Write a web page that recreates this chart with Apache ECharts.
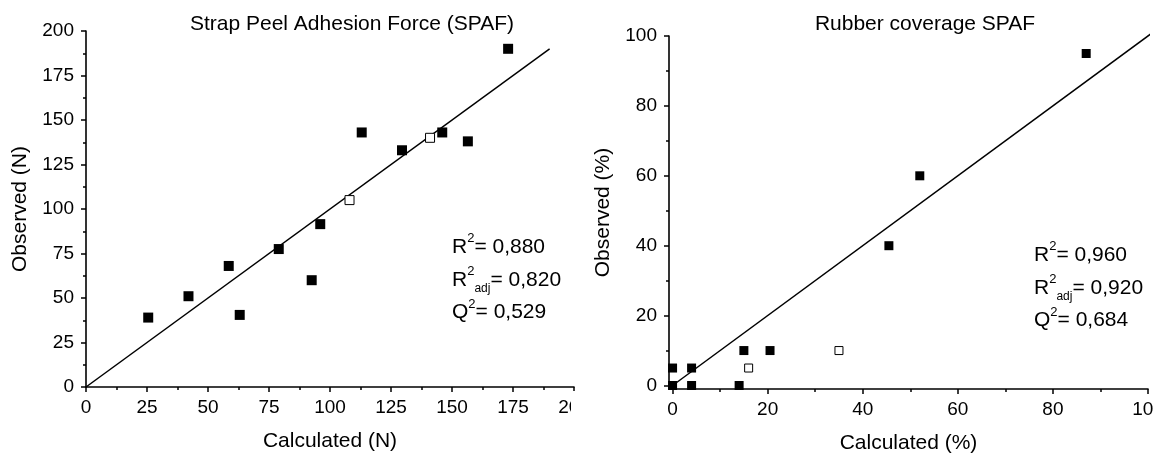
<!DOCTYPE html>
<html>
<head>
<meta charset="utf-8">
<script src="https://cdn.jsdelivr.net/npm/echarts@6/dist/echarts.min.js"></script>
<style>
html,body{margin:0;padding:0;background:#fff;}
#chart{width:1154px;height:453px;}
</style>
</head>
<body>
<div id="chart"></div>
<script>
// ---- Data: Strap Peel Adhesion Force (SPAF) ----
const spafCalcFilled = [25.5, 42, 58.5, 63, 79, 92.5, 96, 113, 129.5, 146, 156.5, 173];
const spafObsFilled  = [39, 51, 68, 40.5, 77.5, 60, 91.5, 143, 133, 143, 138, 190];
const spafCalcOpen   = [108, 141];
const spafObsOpen    = [105, 140];
const spafFitX       = [0, 190];
const spafFitY       = [0, 190];
const spafTicks      = [0, 25, 50, 75, 100, 125, 150, 175, 200];

// ---- Data: Rubber coverage SPAF ----
const rubCalcFilled = [0, 0, 4, 4, 14, 15, 20.5, 45.5, 52, 87];
const rubObsFilled  = [5, 0, 5, 0, 0, 10, 10, 40, 60, 95];
const rubCalcOpen   = [16, 35];
const rubObsOpen    = [5, 10];
const rubFitX       = [0.5, 101];
const rubFitY       = [0.5, 101];
const rubMajorTicks = [0, 20, 40, 60, 80, 100];
const rubMinorTicks = [10, 30, 50, 70, 90];

// ---- Text ----
const titleLeft  = 'Strap Peel Adhesion Force (SPAF)';
const titleRight = 'Rubber coverage SPAF';
const statsLeft  = [['R', '2', '', '= 0,880'], ['R', '2', 'adj', '= 0,820'], ['Q', '2', '', '= 0,529']];
const statsRight = [['R', '2', '', '= 0,960'], ['R', '2', 'adj', '= 0,920'], ['Q', '2', '', '= 0,684']];

const zip = (a, b) => a.map((v, i) => [v, b[i]]);
const FONT = 'Liberation Sans, Arial, sans-serif';
const BLACK = '#000';

function axisBase(extra) {
  return Object.assign({
    type: 'value',
    splitLine: { show: false },
    axisLine: { show: true, onZero: false, lineStyle: { color: BLACK, width: 1.6 } },
    axisTick: { show: true, inside: false, length: 5, lineStyle: { color: BLACK, width: 1.5 } },
    axisLabel: { color: BLACK, fontFamily: FONT, fontSize: 19 },
    nameTextStyle: { color: BLACK, fontFamily: FONT, fontSize: 21 },
    nameLocation: 'middle'
  }, extra);
}

function statLine(parts, x, y) {
  const [a, sup, sub, rest] = parts;
  let text = '{m|' + a + '}{sup|' + sup + '}';
  if (sub) text += '{sub|' + sub + '}';
  text += '{m|' + rest + '}';
  return {
    type: 'text', x: x, y: y, z: 10,
    style: {
      text: text,
      fill: BLACK,
      rich: {
        m:   { fontFamily: FONT, fontSize: 21, lineHeight: 30, verticalAlign: 'middle', fill: BLACK },
        sup: { fontFamily: FONT, fontSize: 13, lineHeight: 17, verticalAlign: 'top', fill: BLACK },
        sub: { fontFamily: FONT, fontSize: 12, lineHeight: 14, verticalAlign: 'bottom', fill: BLACK }
      }
    }
  };
}

const graphics = [
  { type: 'text', x: 352, y: 24, style: { text: titleLeft, fontFamily: FONT, fontSize: 21, fill: BLACK, align: 'center', verticalAlign: 'middle' } },
  { type: 'text', x: 925, y: 24, style: { text: titleRight, fontFamily: FONT, fontSize: 21, fill: BLACK, align: 'center', verticalAlign: 'middle' } },
  // the left panel is cut off at its right edge in the source figure
  { type: 'rect', shape: { x: 571, y: 391, width: 30, height: 30 }, style: { fill: '#fff' }, z: 20 }
];
[232, 265, 297.5].forEach((y, i) => graphics.push(statLine(statsLeft[i], 452, y)));
[240, 273, 305.5].forEach((y, i) => graphics.push(statLine(statsRight[i], 1034, y)));

const option = {
  backgroundColor: '#fff',
  animation: false,
  grid: [
    { left: 86, top: 31, width: 488, height: 356, containLabel: false, outerBoundsMode: 'none' },
    { left: 669, top: 36, width: 479, height: 353, containLabel: false, outerBoundsMode: 'none' }
  ],
  xAxis: [
    axisBase({ gridIndex: 0, position: 'bottom', min: 0, max: 200, interval: 25, name: 'Calculated (N)', nameGap: 44,
      minorTick: { show: true, splitNumber: 2, length: 3, lineStyle: { color: BLACK, width: 1.5 } },
      axisLabel: { color: BLACK, fontFamily: FONT, fontSize: 19, margin: 11, formatter: v => spafTicks.includes(v) ? String(v) : '' } }),
    axisBase({ gridIndex: 1, position: 'bottom', min: -0.75, max: 100, name: 'Calculated (%)', nameGap: 44,
      axisTick: { show: true, inside: false, length: 5, customValues: rubMajorTicks, lineStyle: { color: BLACK, width: 1.5 } },
      axisLabel: { color: BLACK, fontFamily: FONT, fontSize: 19, margin: 11, customValues: rubMajorTicks } }),
    axisBase({ gridIndex: 1, position: 'bottom', min: -0.75, max: 100,
      axisLine: { show: false, onZero: false },
      axisTick: { show: true, inside: false, length: 3, customValues: rubMinorTicks, lineStyle: { color: BLACK, width: 1.5 } },
      axisLabel: { show: false, customValues: rubMinorTicks } })
  ],
  yAxis: [
    axisBase({ gridIndex: 0, position: 'left', min: 0, max: 200, interval: 25, name: 'Observed (N)', nameGap: 55,
      minorTick: { show: true, splitNumber: 2, length: 3, lineStyle: { color: BLACK, width: 1.5 } },
      axisLabel: { color: BLACK, fontFamily: FONT, fontSize: 19, margin: 12 } }),
    axisBase({ gridIndex: 1, position: 'left', min: -1, max: 100, name: 'Observed (%)', nameGap: 55,
      axisTick: { show: true, inside: false, length: 5, customValues: rubMajorTicks, lineStyle: { color: BLACK, width: 1.5 } },
      axisLabel: { color: BLACK, fontFamily: FONT, fontSize: 19, margin: 12, customValues: rubMajorTicks } }),
    axisBase({ gridIndex: 1, position: 'left', min: -1, max: 100,
      axisLine: { show: false, onZero: false },
      axisTick: { show: true, inside: false, length: 3, customValues: rubMinorTicks, lineStyle: { color: BLACK, width: 1.5 } },
      axisLabel: { show: false, customValues: rubMinorTicks } })
  ],
  series: [
    { type: 'line', xAxisIndex: 0, yAxisIndex: 0, data: zip(spafFitX, spafFitY), showSymbol: false, symbol: 'none',
      lineStyle: { color: BLACK, width: 1.5 }, z: 2, silent: true },
    { type: 'scatter', xAxisIndex: 0, yAxisIndex: 0, data: zip(spafCalcFilled, spafObsFilled), symbol: 'rect', symbolSize: 10,
      itemStyle: { color: BLACK, opacity: 1 }, z: 3 },
    { type: 'scatter', xAxisIndex: 0, yAxisIndex: 0, data: zip(spafCalcOpen, spafObsOpen), symbol: 'rect', symbolSize: 9,
      itemStyle: { color: '#fff', borderColor: BLACK, borderWidth: 1, opacity: 1 }, z: 4 },
    { type: 'line', xAxisIndex: 1, yAxisIndex: 1, data: zip(rubFitX, rubFitY), showSymbol: false, symbol: 'none', clip: false,
      lineStyle: { color: BLACK, width: 1.5 }, z: 2, silent: true },
    { type: 'scatter', xAxisIndex: 1, yAxisIndex: 1, data: zip(rubCalcFilled, rubObsFilled), symbol: 'rect', symbolSize: 9,
      itemStyle: { color: BLACK, opacity: 1 }, z: 3 },
    { type: 'scatter', xAxisIndex: 1, yAxisIndex: 1, data: zip(rubCalcOpen, rubObsOpen), symbol: 'rect', symbolSize: 8,
      itemStyle: { color: '#fff', borderColor: BLACK, borderWidth: 1, opacity: 1 }, z: 4 }
  ],
  graphic: graphics
};

const chart = echarts.init(document.getElementById('chart'), null, { renderer: 'canvas' });
chart.setOption(option);
</script>
</body>
</html>
